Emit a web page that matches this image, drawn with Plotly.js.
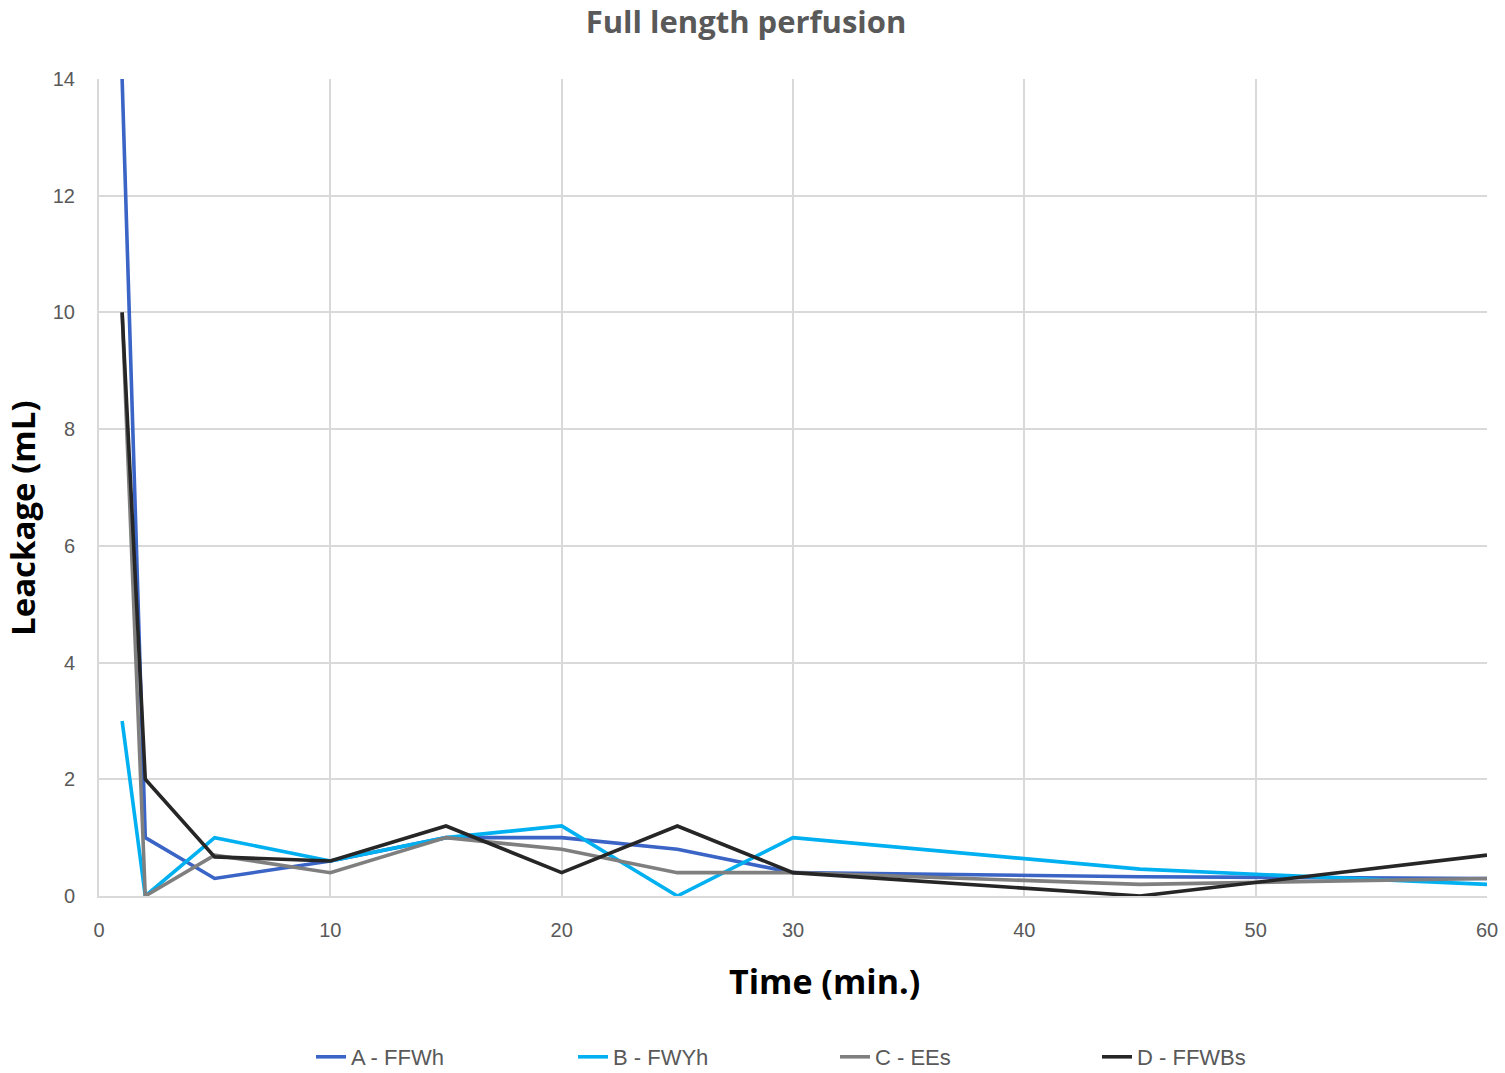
<!DOCTYPE html>
<html>
<head>
<meta charset="utf-8">
<script src="https://cdn.plot.ly/plotly-3.0.1.min.js"></script>
<style>html,body{margin:0;padding:0;background:#fff;}#chart{width:1505px;height:1073px;}</style>
</head>
<body>
<div id="chart"></div>
<script>
const time = [1, 2, 5, 10, 15, 20, 25, 30, 45, 60];
const seriesNames = ["A - FFWh", "B - FWYh", "C - EEs", "D - FFWBs"];
const valuesA = [14, 1, 0.3, 0.6, 1.0, 1.0, 0.8, 0.4, 0.33, 0.3];
const valuesB = [3, 0, 1.0, 0.6, 1.0, 1.2, 0, 1.0, 0.46, 0.2];
const valuesC = [10, 0, 0.7, 0.4, 1.0, 0.8, 0.4, 0.4, 0.2, 0.3];
const valuesD = [10, 2, 0.67, 0.6, 1.2, 0.4, 1.2, 0.4, 0, 0.7];
const colors = ["#3A64C6", "#00B0F0", "#7F7F7F", "#262626"];
const xTicks = [0, 10, 20, 30, 40, 50, 60];
const yTicks = [0, 2, 4, 6, 8, 10, 12, 14];

const all = [valuesA, valuesB, valuesC, valuesD];
const traces = all.map((v, i) => ({
  x: time, y: v, type: "scatter", mode: "lines", name: seriesNames[i],
  line: {color: colors[i], width: 3.6}
}));

const layout = {
  width: 1505, height: 1073,
  margin: {l: 99, r: 18, t: 79, b: 177, autoexpand: false},
  paper_bgcolor: "#fff", plot_bgcolor: "#fff",
  title: {text: "<b>Full length perfusion</b>", x: 0.4957, xanchor: "center", y: 0.979, yanchor: "middle",
    font: {family: "Open Sans, sans-serif", size: 31, color: "#595959"}},
  xaxis: {
    range: [0, 60], tickvals: xTicks, ticktext: xTicks.map(String),
    showgrid: true, gridcolor: "#d9d9d9", gridwidth: 2, zeroline: false,
    showline: true, linecolor: "#d9d9d9", linewidth: 2, mirror: false,
    ticks: "outside", ticklen: 15, tickcolor: "rgba(0,0,0,0)",
    tickfont: {family: "Liberation Sans, Arial, sans-serif", size: 20, color: "#595959"}
  },
  yaxis: {
    range: [0, 14], tickvals: yTicks, ticktext: yTicks.map(String),
    showgrid: true, gridcolor: "#d9d9d9", gridwidth: 2, zeroline: false,
    showline: true, linecolor: "#d9d9d9", linewidth: 2,
    ticks: "outside", ticklen: 18, tickcolor: "rgba(0,0,0,0)",
    tickfont: {family: "Liberation Sans, Arial, sans-serif", size: 20, color: "#595959"}
  },
  annotations: [
    {text: "<b>Time (min.)</b>", xref: "paper", yref: "paper", x: (824 - 99) / 1388, y: (896 - 981) / 817,
      xanchor: "center", yanchor: "middle", showarrow: false,
      font: {family: "Open Sans, sans-serif", size: 34, color: "#000"}},
    {text: "<b>Leackage (mL)</b>", xref: "paper", yref: "paper", x: (22 - 99) / 1388, y: (896 - 518) / 817,
      xanchor: "center", yanchor: "middle", showarrow: false, textangle: -90,
      font: {family: "Open Sans, sans-serif", size: 33, color: "#000"}}
  ],
  showlegend: true,
  legend: {orientation: "h", x: (835 - 99) / 1388, xanchor: "center", y: (896 - 1057) / 817, yanchor: "middle",
    entrywidth: 217, entrywidthmode: "pixels",
    font: {family: "Liberation Sans, Arial, sans-serif", size: 22, color: "#595959"}}
};

Plotly.newPlot("chart", traces, layout, {displayModeBar: false, staticPlot: true});
</script>
</body>
</html>
